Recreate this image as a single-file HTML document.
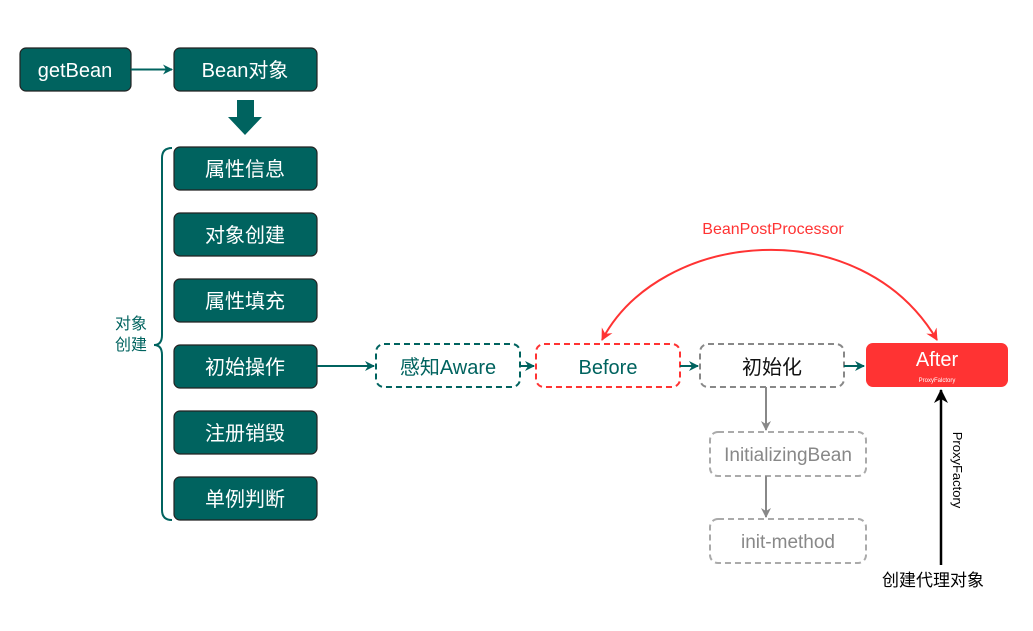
<!DOCTYPE html>
<html><head><meta charset="utf-8"><style>
html,body{margin:0;padding:0;background:#fff;}
svg text{font-family:"Liberation Sans","Noto Sans CJK SC",sans-serif;}
</style></head><body>
<svg width="1033" height="626" viewBox="0 0 1033 626" xmlns="http://www.w3.org/2000/svg">
<defs>
<marker id="at" markerWidth="10" markerHeight="10" refX="9" refY="5" orient="auto" markerUnits="userSpaceOnUse"><path d="M0,0 L10,5 L0,10 L3,5 Z" fill="#00635f"/></marker>
<marker id="ag" markerWidth="10" markerHeight="10" refX="9" refY="5" orient="auto" markerUnits="userSpaceOnUse"><path d="M0,0 L10,5 L0,10 L3,5 Z" fill="#888"/></marker>
<marker id="ar" markerWidth="12" markerHeight="12" refX="11" refY="6" orient="auto" markerUnits="userSpaceOnUse"><path d="M0,0 L12,6 L0,12 L4,6 Z" fill="#ff3333"/></marker>
<marker id="ars" markerWidth="12" markerHeight="12" refX="1" refY="6" orient="auto" markerUnits="userSpaceOnUse"><path d="M12,0 L0,6 L12,12 L8,6 Z" fill="#ff3333"/></marker>
<marker id="ak" markerWidth="14" markerHeight="14" refX="13" refY="7" orient="auto" markerUnits="userSpaceOnUse"><path d="M0,0 L14,7 L0,14 L4,7 Z" fill="#000"/></marker>
</defs>
<g fill="#00635f" stroke="#222" stroke-width="1.2">
<rect x="20" y="48" width="111" height="43" rx="6"/>
<rect x="174" y="48" width="143" height="43" rx="6"/>
<rect x="174" y="147" width="143" height="43" rx="6"/>
<rect x="174" y="213" width="143" height="43" rx="6"/>
<rect x="174" y="279" width="143" height="43" rx="6"/>
<rect x="174" y="345" width="143" height="43" rx="6"/>
<rect x="174" y="411" width="143" height="43" rx="6"/>
<rect x="174" y="477" width="143" height="43" rx="6"/>
</g>
<g fill="#fff" font-size="20" text-anchor="middle">
<text x="75" y="77">getBean</text>
<text x="245" y="77">Bean对象</text>
<text x="245" y="176">属性信息</text>
<text x="245" y="242">对象创建</text>
<text x="245" y="308">属性填充</text>
<text x="245" y="374">初始操作</text>
<text x="245" y="440">注册销毁</text>
<text x="245" y="506">单例判断</text>
</g>
<line x1="131" y1="69.5" x2="172" y2="69.5" stroke="#00635f" stroke-width="2" marker-end="url(#at)"/>
<path d="M237,100 H254 V117 H262 L245,135 L228,117 H237 Z" fill="#00635f"/>
<path d="M172,148 Q162,148 162,158 V335 Q162,345 154,345 Q162,345 162,355 V510 Q162,520 172,520" fill="none" stroke="#00635f" stroke-width="2"/>
<text x="131" y="329" fill="#00635f" font-size="16" text-anchor="middle">对象</text>
<text x="131" y="350" fill="#00635f" font-size="16" text-anchor="middle">创建</text>
<line x1="317" y1="366" x2="374" y2="366" stroke="#00635f" stroke-width="2" marker-end="url(#at)"/>
<rect x="376" y="344" width="144" height="43" rx="8" fill="none" stroke="#00635f" stroke-width="2" stroke-dasharray="6,4"/>
<text x="448" y="374" fill="#00635f" font-size="20" text-anchor="middle">感知Aware</text>
<line x1="520" y1="366" x2="534" y2="366" stroke="#00635f" stroke-width="2" marker-end="url(#at)"/>
<rect x="536" y="344" width="144" height="43" rx="8" fill="none" stroke="#ff3333" stroke-width="2" stroke-dasharray="6,4"/>
<text x="608" y="374" fill="#00635f" font-size="20" text-anchor="middle">Before</text>
<line x1="680" y1="366" x2="698" y2="366" stroke="#00635f" stroke-width="2" marker-end="url(#at)"/>
<rect x="700" y="344" width="144" height="43" rx="8" fill="none" stroke="#888" stroke-width="2" stroke-dasharray="6,4"/>
<text x="772" y="374" fill="#111" font-size="20" text-anchor="middle">初始化</text>
<line x1="844" y1="366" x2="864" y2="366" stroke="#00635f" stroke-width="2" marker-end="url(#at)"/>
<rect x="866" y="343" width="142" height="44" rx="7" fill="#ff3333"/>
<text x="937" y="366" fill="#fff" font-size="20" text-anchor="middle">After</text>
<text x="937" y="382" fill="#fff" font-size="6" text-anchor="middle">ProxyFalctory</text>
<line x1="766" y1="387" x2="766" y2="430" stroke="#888" stroke-width="2" marker-end="url(#ag)"/>
<rect x="710" y="432" width="156" height="44" rx="8" fill="none" stroke="#aaa" stroke-width="2" stroke-dasharray="6,4"/>
<text x="788" y="461" fill="#888" font-size="19" text-anchor="middle">InitializingBean</text>
<line x1="766" y1="476" x2="766" y2="517" stroke="#888" stroke-width="2" marker-end="url(#ag)"/>
<rect x="710" y="519" width="156" height="44" rx="8" fill="none" stroke="#aaa" stroke-width="2" stroke-dasharray="6,4"/>
<text x="788" y="548" fill="#888" font-size="19" text-anchor="middle">init-method</text>
<path d="M602,340 C660,230 860,210 937,340" fill="none" stroke="#ff3333" stroke-width="2" marker-start="url(#ars)" marker-end="url(#ar)"/>
<text x="773" y="234" fill="#ff3333" font-size="16" text-anchor="middle">BeanPostProcessor</text>
<line x1="941" y1="565" x2="941" y2="390" stroke="#000" stroke-width="2.5" marker-end="url(#ak)"/>
<text transform="translate(953,470) rotate(90)" fill="#000" font-size="13" text-anchor="middle">ProxyFactory</text>
<text x="933" y="586" fill="#000" font-size="17" text-anchor="middle">创建代理对象</text>
</svg>
</body></html>
